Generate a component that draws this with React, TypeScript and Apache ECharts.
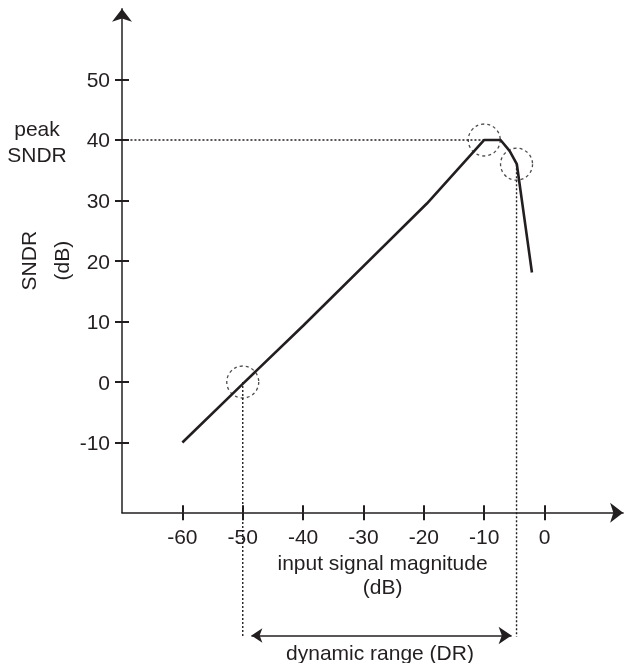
import React, { useEffect, useRef } from "react";
import * as echarts from "echarts";

// ---- data ----
const inputDb = [-60, -50, -40, -19.5, -10, -7.3, -5.8, -4.6, -2.1];
const sndrDb = [-10, -0.3, 9.3, 29.5, 40, 40, 38.2, 36, 18.1];

const xTicks = [-60, -50, -40, -30, -20, -10, 0];
const yTicks = [-10, 0, 10, 20, 30, 40, 50];

// annotation points
const peakLineX = [-79.2, -10];
const peakSndr = 40;
const drLeftX = -50;
const drRightX = -4.65;
const drRightY = 36;
const drBottomY = -42.1;
const drArrowY = -41.9;
const drArrowX = [-48.57, -5.47];
const circleX = [-50, -10, -4.65];
const circleY = [0, 40, 36];

const INK = "#231f20";
const FONT = "Liberation Sans, Arial, sans-serif";

export default function App() {
  const ref = useRef<HTMLDivElement>(null);
  useEffect(() => {
    if (!ref.current) return;
    const chart = echarts.init(ref.current, undefined, { renderer: "svg" });
    const dotted = { color: INK, width: 1.4, type: [2, 2] as number[] };
    const option: any = {
      animation: false,
      grid: { left: 122, right: 2.9, top: 8.7, bottom: 150.3, containLabel: false, outerBoundsMode: "none" },
      xAxis: [
        {
          type: "value",
          min: -70,
          max: 13,
          position: "bottom",
          splitLine: { show: false },
          axisLine: {
            show: true,
            onZero: false,
            symbol: ["none", "arrow"],
            symbolSize: [15, 13],
            lineStyle: { color: INK, width: 1.5 },
          },
          axisTick: { show: true, customValues: xTicks, length: 7.5, lineStyle: { color: INK, width: 2 } },
          axisLabel: { customValues: xTicks, margin: 13, fontSize: 21, color: INK, fontFamily: FONT },
          name: "input signal magnitude\n(dB)",
          nameLocation: "middle",
          nameGap: 38,
          nameMoveOverlap: false,
          nameTextStyle: { fontSize: 21, lineHeight: 24, color: INK, fontFamily: FONT, padding: [0, 0, 0, 20] },
        },
        {
          type: "value",
          min: -70,
          max: 13,
          position: "bottom",
          splitLine: { show: false },
          axisLine: { show: false, onZero: false },
          axisTick: { show: true, inside: true, customValues: xTicks, length: 7.5, lineStyle: { color: INK, width: 2 } },
          axisLabel: { show: false },
        },
      ],
      yAxis: [
        {
          type: "value",
          min: -21.6,
          max: 61.7,
          position: "left",
          splitLine: { show: false },
          axisLine: {
            show: true,
            onZero: false,
            symbol: ["none", "arrow"],
            symbolSize: [15, 13],
            lineStyle: { color: INK, width: 1.5 },
          },
          axisTick: { show: true, customValues: yTicks, length: 7, lineStyle: { color: INK, width: 2 } },
          axisLabel: { customValues: yTicks, margin: 12, fontSize: 21, color: INK, fontFamily: FONT },
          name: "SNDR\n(dB)",
          nameLocation: "middle",
          nameRotate: 90,
          nameGap: 44,
          nameMoveOverlap: false,
          nameTextStyle: { fontSize: 21, lineHeight: 33, color: INK, fontFamily: FONT },
        },
        {
          type: "value",
          min: -21.6,
          max: 61.7,
          position: "left",
          splitLine: { show: false },
          axisLine: { show: false, onZero: false },
          axisTick: { show: true, inside: true, customValues: yTicks, length: 7, lineStyle: { color: INK, width: 2 } },
          axisLabel: { show: false },
        },
      ],
      series: [
        {
          type: "line",
          data: inputDb.map((x, i) => [x, sndrDb[i]]),
          symbol: "none",
          lineStyle: { color: INK, width: 2.6 },
          silent: true,
          z: 5,
        },
        {
          type: "line",
          data: peakLineX.map((x) => [x, peakSndr]),
          symbol: "none",
          clip: false,
          silent: true,
          lineStyle: dotted,
        },
        {
          type: "line",
          data: [[drLeftX, 0], [drLeftX, drBottomY]],
          symbol: "none",
          clip: false,
          silent: true,
          lineStyle: dotted,
        },
        {
          type: "line",
          data: [[drRightX, drRightY], [drRightX, drBottomY]],
          symbol: "none",
          clip: false,
          silent: true,
          lineStyle: dotted,
        },
        {
          type: "lines",
          coordinateSystem: "cartesian2d",
          clip: false,
          silent: true,
          symbol: ["arrow", "arrow"],
          symbolSize: [11, 13],
          lineStyle: { color: INK, width: 1.5, opacity: 1 },
          data: [{ coords: [[drArrowX[0], drArrowY], [drArrowX[1], drArrowY]] }],
        },
        {
          type: "scatter",
          data: circleX.map((x, i) => [x, circleY[i]]),
          symbol: "circle",
          symbolSize: 32,
          silent: true,
          clip: false,
          itemStyle: { color: "rgba(0,0,0,0)", borderColor: INK, borderWidth: 1.3, borderType: [3, 3] },
          z: 4,
        },
      ],
      graphic: [
        {
          type: "text",
          x: 37,
          y: 141,
          style: {
            text: "peak\nSNDR",
            fontSize: 21,
            lineHeight: 26,
            fontFamily: FONT,
            fill: INK,
            align: "center",
            verticalAlign: "middle",
          },
        },
        {
          type: "text",
          x: 380,
          y: 652.8,
          style: {
            text: "dynamic range (DR)",
            fontSize: 21,
            fontFamily: FONT,
            fill: INK,
            align: "center",
            verticalAlign: "middle",
          },
        },
      ],
    };
    chart.setOption(option);
    return () => chart.dispose();
  }, []);
  return <div ref={ref} style={{ position: "fixed", left: 0, top: 0, width: 626, height: 663 }} />;
}
